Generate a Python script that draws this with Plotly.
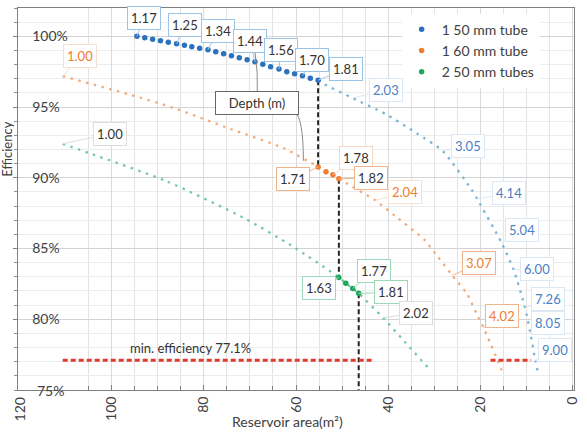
import plotly.graph_objects as go

# ---------------- data ----------------
blue_big_x = [94.5, 92.8, 91.1, 89.4, 87.7, 85.9, 84.2, 82.6, 80.9, 79.1, 77.4, 75.7,
              74.0, 72.3, 70.6, 68.9, 67.2, 65.5, 63.7, 62.0, 60.3, 58.6, 56.9, 55.2]
blue_big_y = [100.0, 99.89, 99.79, 99.68, 99.58, 99.47, 99.37, 99.26, 99.15, 99.05, 98.91, 98.77,
              98.63, 98.48, 98.34, 98.20, 98.03, 97.85, 97.68, 97.50, 97.36, 97.22, 97.04, 96.90]
blue_tail_x = [55.2, 53.9, 47.7, 40.6, 33.6, 28.2, 22.0, 20.7, 15.4, 12.8, 10.3, 9.2, 8.1, 7.4]
blue_tail_y = [96.90, 96.62, 95.63, 94.51, 93.10, 91.9, 89.2, 88.5, 85.4, 83.5, 80.8, 79.1, 77.1, 76.1]

orange_x = [110.6, 96.3, 87.1, 74.2, 62.7, 55.2, 53.5, 52.0, 50.7, 42.8, 38.5, 32.1, 29.3,
            26.1, 22.9, 20.7, 19.3, 15.4]
orange_y = [97.18, 95.9, 95.0, 93.45, 92.1, 90.77, 90.42, 90.21, 89.93, 88.4, 87.3, 85.6, 84.44,
            83.1, 81.8, 80.3, 79.4, 76.4]
orange_big = [5, 6, 7, 8]

green_x = [110.6, 104.4, 88.3, 71.0, 61.0, 50.7, 49.2, 47.7, 46.4, 41.1, 36.4, 31.4]
green_y = [92.4, 91.69, 89.79, 87.11, 85.21, 82.96, 82.54, 82.18, 81.83, 80.1, 78.4, 76.6]
green_big = [5, 6, 7, 8]

min_eff = 77.1
min_left_x = [110.6, 43.6]
min_right_x = [17.8, 9.0]

x_ticks = [120, 100, 80, 60, 40, 20, 0]
y_ticks = [80, 85, 90, 95, 100]
y_ticktext = ["80%", "85%", "90%", "95%", "100%"]
y_bottom_label = "75%"

# depth labels: text, anchor x, anchor y
blue_lbl = ["1.17", "1.25", "1.34", "1.44", "1.56", "1.70", "1.81",
            "2.03", "3.05", "4.14", "5.04", "6.00", "7.26", "8.05", "9.00"]
blue_lbl_x = [94.5, 85.9, 79.1, 68.9, 63.7, 58.6, 55.2, 47.7, 28.2, 20.7, 15.4, 12.8, 10.3, 9.2, 8.1]
blue_lbl_y = [100.0, 99.47, 99.05, 98.20, 97.68, 97.22, 96.90, 95.63, 91.9, 88.5, 85.4, 83.5, 80.8, 79.1, 77.1]

orange_lbl = ["1.00", "1.71", "1.78", "1.82", "2.04", "3.07", "4.02"]
orange_lbl_x = [110.6, 55.2, 52.0, 50.7, 42.8, 26.1, 19.3]
orange_lbl_y = [97.18, 90.77, 90.21, 89.93, 88.4, 83.1, 79.4]

green_lbl = ["1.00", "1.63", "1.77", "1.81", "2.02"]
green_lbl_x = [110.6, 50.7, 47.7, 46.4, 41.1]
green_lbl_y = [92.4, 82.96, 82.18, 81.83, 80.1]

# ---------------- style ----------------
FONT = "Lato"
BLUE, BLUE_L = "#2a72c0", "#7ab6d2"
ORANGE, ORANGE_L = "#ed7d31", "#f3aa7a"
GREEN, GREEN_L = "#1fa85a", "#72c8a4"
TXT = "#333333"
AX = "#404040"

fig = go.Figure()

dot = "2.5px,5.5px"
for xs, ys, c in ((blue_tail_x, blue_tail_y, BLUE_L), (orange_x, orange_y, ORANGE_L),
                  (green_x, green_y, GREEN_L)):
    fig.add_trace(go.Scatter(x=xs, y=ys, mode="lines", showlegend=False,
                             line=dict(color=c, width=2.3, dash=dot, shape="spline", smoothing=0.6),
                             hoverinfo="skip"))

# dashed guide lines
vx = [blue_big_x[-1], orange_x[orange_big[-1]], green_x[green_big[-1]]]
vy_top = [blue_big_y[-1], orange_y[orange_big[-1]], green_y[green_big[-1]]]
vy_bot = [orange_y[orange_big[0]], green_y[green_big[0]], 75]
for xx, y0, y1 in zip(vx, vy_top, vy_bot):
    fig.add_trace(go.Scatter(x=[xx, xx], y=[y0, y1], mode="lines", showlegend=False,
                             line=dict(color="#222222", width=2, dash="5px,3px"), hoverinfo="skip"))
for xs in (min_left_x, min_right_x):
    fig.add_trace(go.Scatter(x=xs, y=[min_eff, min_eff], mode="lines", showlegend=False,
                             line=dict(color="#e23a2e", width=3, dash="5px,3px"), hoverinfo="skip"))

fig.add_trace(go.Scatter(x=blue_big_x, y=blue_big_y, mode="markers", name="1 50 mm tube",
                         marker=dict(color=BLUE, size=5.5)))
fig.add_trace(go.Scatter(x=[orange_x[i] for i in orange_big], y=[orange_y[i] for i in orange_big],
                         mode="markers", name="1 60 mm tube", marker=dict(color=ORANGE, size=5.5)))
fig.add_trace(go.Scatter(x=[green_x[i] for i in green_big], y=[green_y[i] for i in green_big],
                         mode="markers", name="2 50 mm tubes", marker=dict(color=GREEN, size=5.5)))

annos = []

def callout(txt, x, y, ax, ay, tcol, bcol):
    annos.append(dict(x=x, y=y, text=txt, showarrow=True, arrowhead=0, arrowwidth=1,
                      arrowcolor=bcol, ax=ax, ay=ay, bgcolor="white", bordercolor=bcol,
                      borderwidth=1, borderpad=3, font=dict(family=FONT, size=13, color=tcol)))

blue_off = [(7, -18), (8, -19), (10, -19), (-5, -21), (2, -19), (10, -16), (28, -11),
            (33, -8), (25, -5), (32, -6), (20, -13), (23, -1), (23, -9), (18, -9), (20, -10)]
for i, (t, x, y) in enumerate(zip(blue_lbl, blue_lbl_x, blue_lbl_y)):
    if i < 7:
        callout(t, x, y, *blue_off[i], TXT, "#9cc4e6")
    else:
        callout(t, x, y, *blue_off[i], "#4a80c4", "#dce8f4")

orange_off = [(17, -20), (-25, 12), (23, -17), (32, -1), (30, -8), (27, -12), (18, -12)]
orange_col = [(ORANGE, "#f6e0d0"), (TXT, "#f0b48a"), (TXT, "#f6d6c0"), (TXT, "#f0b48a"),
              (ORANGE, "#f6e0d0"), (ORANGE, "#f0b48a"), (ORANGE, "#f0b48a")]
for i, (t, x, y) in enumerate(zip(orange_lbl, orange_lbl_x, orange_lbl_y)):
    callout(t, x, y, *orange_off[i], *orange_col[i])

green_off = [(47, -10), (-20, 11), (21, -17), (32, -1), (33, -5)]
green_col = [(TXT, "#dddddd"), (TXT, "#9ed8b8"), (TXT, "#9ed8b8"), (TXT, "#9ed8b8"), (TXT, "#dddddd")]
for i, (t, x, y) in enumerate(zip(green_lbl, green_lbl_x, green_lbl_y)):
    callout(t, x, y, *green_off[i], *green_col[i])

annos.append(dict(x=68.4, y=95.28, text="Depth (m)", showarrow=False, bgcolor="white",
                  bordercolor="#666666", borderwidth=1, borderpad=3, width=76,
                  font=dict(family=FONT, size=13, color=TXT)))
annos.append(dict(x=82.8, y=78.0, text="min. efficiency 77.1%", showarrow=False,
                  font=dict(family=FONT, size=13, color=TXT)))
# edge tick labels that plotly hides at the corner of the plot area
annos.append(dict(x=x_ticks[0], y=75, text=y_bottom_label, showarrow=False, xanchor="left",
                  xshift=16, font=dict(family=FONT, size=14, color=AX)))
annos.append(dict(x=x_ticks[0], y=75, text=str(x_ticks[0]), showarrow=False, textangle=-90,
                  xanchor="center", yanchor="top", yshift=-5,
                  font=dict(family=FONT, size=14, color=AX)))
annos.append(dict(xref="paper", yref="paper", x=-0.019, y=0.63, text="Efficiency",
                  textangle=-90, showarrow=False, xanchor="center", yanchor="middle",
                  font=dict(family=FONT, size=13, color=AX)))
annos.append(dict(xref="paper", yref="paper", x=0.485, y=-0.082, text="Reservoir area(m²)",
                  showarrow=False, yanchor="middle", xanchor="center",
                  font=dict(family=FONT, size=14, color=AX)))

shapes = [
    dict(type="path", path="M 68.9 98.94 Q 68.2 97.4 68.4 95.99", line=dict(color="#8a8a8a", width=1)),
    dict(type="path", path="M 60.3 94.7 Q 58.4 94.2 58.4 91.2", line=dict(color="#8a8a8a", width=1)),
]

fig.update_layout(
    width=587, height=432,
    margin=dict(l=18, r=9, t=7, b=42),
    paper_bgcolor="white", plot_bgcolor="white",
    font=dict(family=FONT, size=13, color=AX),
    annotations=annos, shapes=shapes,
    legend=dict(x=0.69, y=0.985, xanchor="left", yanchor="top", bgcolor="white",
                font=dict(family=FONT, size=14, color=AX)),
    xaxis=dict(range=[120.3, -0.3], tickvals=x_ticks, tickangle=-90, ticklabeloverflow="allow",
               showline=True, linecolor="#808080", linewidth=1, mirror=True,
               ticks="inside", ticklen=5, tickcolor="#808080",
               showgrid=True, gridcolor="#dadada", zeroline=False,
               tickfont=dict(family=FONT, size=14, color=AX),
               minor=dict(dtick=5, tick0=0, ticks="inside", ticklen=4, tickcolor="#808080",
                          showgrid=True, gridcolor="#e3e3e3")),
    yaxis=dict(range=[75, 102], tickvals=y_ticks, ticktext=y_ticktext,
               ticklabelposition="inside", ticklabelstandoff=14,
               showline=True, linecolor="#808080", linewidth=1, mirror=True,
               ticks="outside", ticklen=4, tickcolor="#808080",
               showgrid=True, gridcolor="#d4d4d4", zeroline=False,
               tickfont=dict(family=FONT, size=14, color=AX),
               minor=dict(dtick=1, tick0=75, ticks="outside", ticklen=3, tickcolor="#909090",
                          showgrid=True, gridcolor="#ececec")),
)

fig.write_html("out.html")
